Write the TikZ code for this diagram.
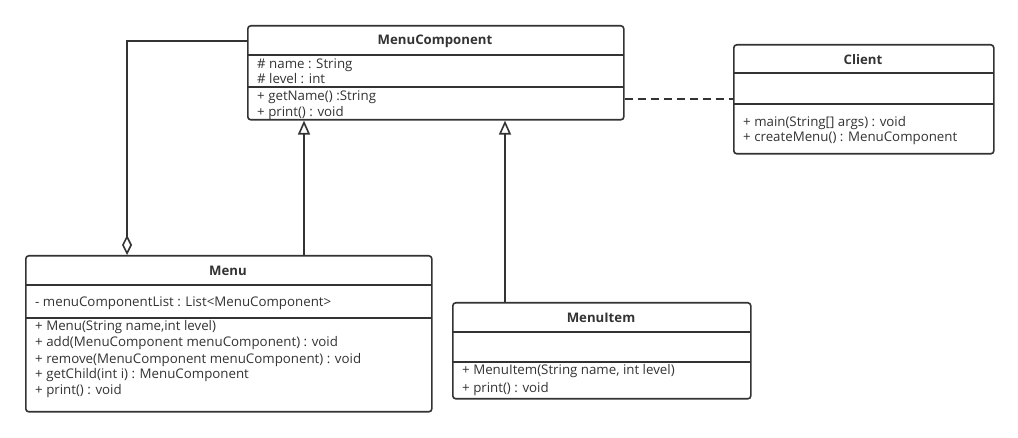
\documentclass[tikz,border=0pt]{standalone}
\usepackage{fontspec}
\setmainfont{Open Sans}
\usetikzlibrary{arrows.meta}
\definecolor{lc}{HTML}{333333}
\definecolor{tc}{HTML}{333333}
\tikzset{
  umlbox/.style={draw=lc, line width=1.6, rounded corners=3, fill=white, inner sep=0, anchor=north west},
  sepline/.style={draw=lc, line width=1.6},
  ctitle/.style={font=\bfseries\fontsize{13.2}{15}\selectfont, text=tc, inner sep=0},
  member/.style={font=\fontsize{13.3}{15}\selectfont, text=tc, inner sep=0, anchor=base west},
  conn/.style={draw=lc, line width=1.6},
  inherit/.style={conn, -{Triangle[open, length=14, width=12, line width=1.6]}},
  aggr/.style={conn, -{Diamond[open, length=20, width=10, line width=1.6]}},
  depend/.style={conn, dash pattern=on 8 off 5},
}
\begin{document}
\begin{tikzpicture}[x=1pt,y=-1pt]
\useasboundingbox (0,0) rectangle (1018,438);

% MenuComponent
\node[umlbox, minimum width=376, minimum height=94] (mc) at (247,25) {};
\draw[sepline] (247,55) -- (623,55);
\draw[sepline] (247,87) -- (623,87);
\node[ctitle] (mct) at (435,41) {MenuComponent};
\node[member] (mc1) at (257,69) {\# name : String};
\node[member] (mc2) at (257,84) {\# level : int};
\node[member] (mc3) at (257,101) {+ getName() :String};
\node[member] (mc4) at (257,117) {+ print() : void};

% Client
\node[umlbox, minimum width=260, minimum height=109] (cl) at (733,44) {};
\draw[sepline] (733,73) -- (993,73);
\draw[sepline] (733,104) -- (993,104);
\node[ctitle] (clt) at (863,60) {Client};
\node[member] (cl1) at (743,127) {+ main(String[] args) : void};
\node[member] (cl2) at (743,142) {+ createMenu() : MenuComponent};

% Menu
\node[umlbox, minimum width=406, minimum height=156] (menu) at (25,255) {};
\draw[sepline] (25,285) -- (431,285);
\draw[sepline] (25,318) -- (431,318);
\node[ctitle] (met) at (228,271) {Menu};
\node[member] (me0) at (35,307) {- menuComponentList : List<MenuComponent>};
\node[member] (me1) at (35,331) {+ Menu(String name,int level)};
\node[member] (me2) at (35,347) {+ add(MenuComponent menuComponent) : void};
\node[member] (me3) at (35,363) {+ remove(MenuComponent menuComponent) : void};
\node[member] (me4) at (35,379) {+ getChild(int i) : MenuComponent};
\node[member] (me5) at (35,395) {+ print() : void};

% MenuItem
\node[umlbox, minimum width=298, minimum height=96] (mi) at (452,302) {};
\draw[sepline] (452,332) -- (750,332);
\draw[sepline] (452,362) -- (750,362);
\node[ctitle] (mit) at (601,318) {MenuItem};
\node[member] (mi1) at (462,375) {+ MenuItem(String name, int level)};
\node[member] (mi2) at (462,392) {+ print() : void};

% connectors
\coordinate (ax) at (127,0);
\coordinate (i1) at (304,0);
\coordinate (i2) at (505,0);
\coordinate (dy) at (0,99);
\draw[aggr] (mc.west |- mct) -| (menu.north -| ax);
\draw[inherit] (menu.north -| i1) -- (mc.south -| i1);
\draw[inherit] (mi.north -| i2) -- (mc.south -| i2);
\draw[depend] (mc.east |- dy) -- (cl.west |- dy);
\end{tikzpicture}
\end{document}
